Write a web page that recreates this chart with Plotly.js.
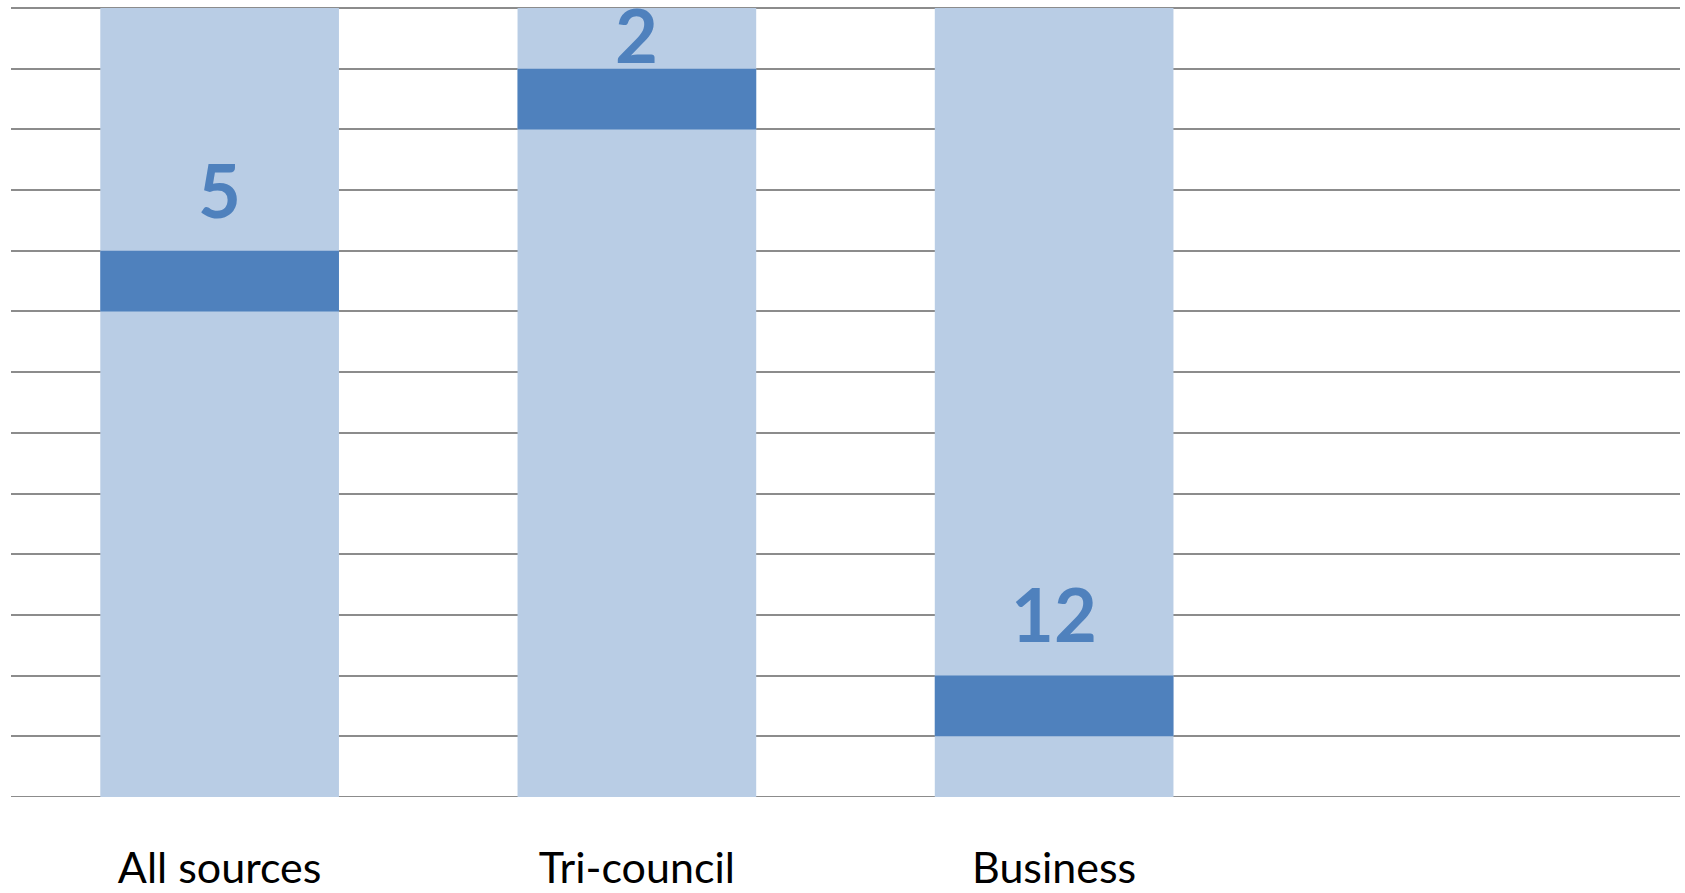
<!DOCTYPE html>
<html>
<head>
<meta charset="utf-8">
<script src="https://cdn.plot.ly/plotly-3.0.1.min.js"></script>
<style>
html,body{margin:0;padding:0;background:#fff;}
#chart{width:1685px;height:893px;}
</style>
</head>
<body>
<div id="chart"></div>
<script>
// Data
const categories = ["All sources", "Tri-council", "Business"];
const ranks = [5, 2, 12];
const totalRanks = 13;
const slotCount = 4; // fourth category slot is empty

const xIdx = categories.map((c, i) => i);
const bgColor = "#B9CDE5";
const bandColor = "#4F81BD";

const bgTrace = {
  type: "bar",
  x: xIdx,
  y: categories.map(() => totalRanks),
  base: categories.map(() => 0),
  marker: {color: bgColor, line: {width: 0}},
  width: 0.572,
  hoverinfo: "skip",
  showlegend: false
};
const bandTrace = {
  type: "bar",
  x: xIdx,
  y: ranks.map(() => 1),
  base: ranks.map(r => r - 1),
  marker: {color: bandColor, line: {width: 0}},
  width: 0.572,
  hoverinfo: "skip",
  showlegend: false
};

const annotations = ranks.map((r, i) => ({
  x: i,
  y: Math.max(r - 2, 0.445),
  xref: "x",
  yref: "y",
  text: "<b>" + String(r) + "</b>",
  showarrow: false,
  xanchor: "center",
  yanchor: "middle",
  yshift: 1,
  font: {family: "Lato, 'Open Sans', sans-serif", size: 74, color: bandColor}
}));

const layout = {
  width: 1685,
  height: 893,
  margin: {l: 11, r: 5, t: 8, b: 96},
  paper_bgcolor: "#ffffff",
  plot_bgcolor: "#ffffff",
  barmode: "overlay",
  showlegend: false,
  xaxis: {
    range: [-0.5, slotCount - 0.5],
    tickmode: "array",
    tickvals: xIdx,
    ticktext: categories,
    showgrid: false,
    zeroline: false,
    showline: false,
    ticks: "",
    ticklabelstandoff: 42,
    tickfont: {family: "Lato, 'Open Sans', sans-serif", size: 43, color: "#000000"},
    fixedrange: true
  },
  yaxis: {
    range: [totalRanks, 0],
    tickmode: "linear",
    tick0: 0,
    dtick: 1,
    showgrid: true,
    gridcolor: "#8C8C8C",
    gridwidth: 2,
    zeroline: true,
    zerolinecolor: "#8C8C8C",
    zerolinewidth: 2,
    showline: false,
    showticklabels: false,
    ticks: "",
    fixedrange: true
  },
  shapes: [{
    type: "line", xref: "paper", yref: "y",
    x0: 0, x1: 1, y0: totalRanks, y1: totalRanks,
    line: {color: "#8C8C8C", width: 2},
    layer: "below"
  }],
  annotations: annotations
};

Plotly.newPlot("chart", [bgTrace, bandTrace], layout, {displayModeBar: false, staticPlot: true});
</script>
</body>
</html>
